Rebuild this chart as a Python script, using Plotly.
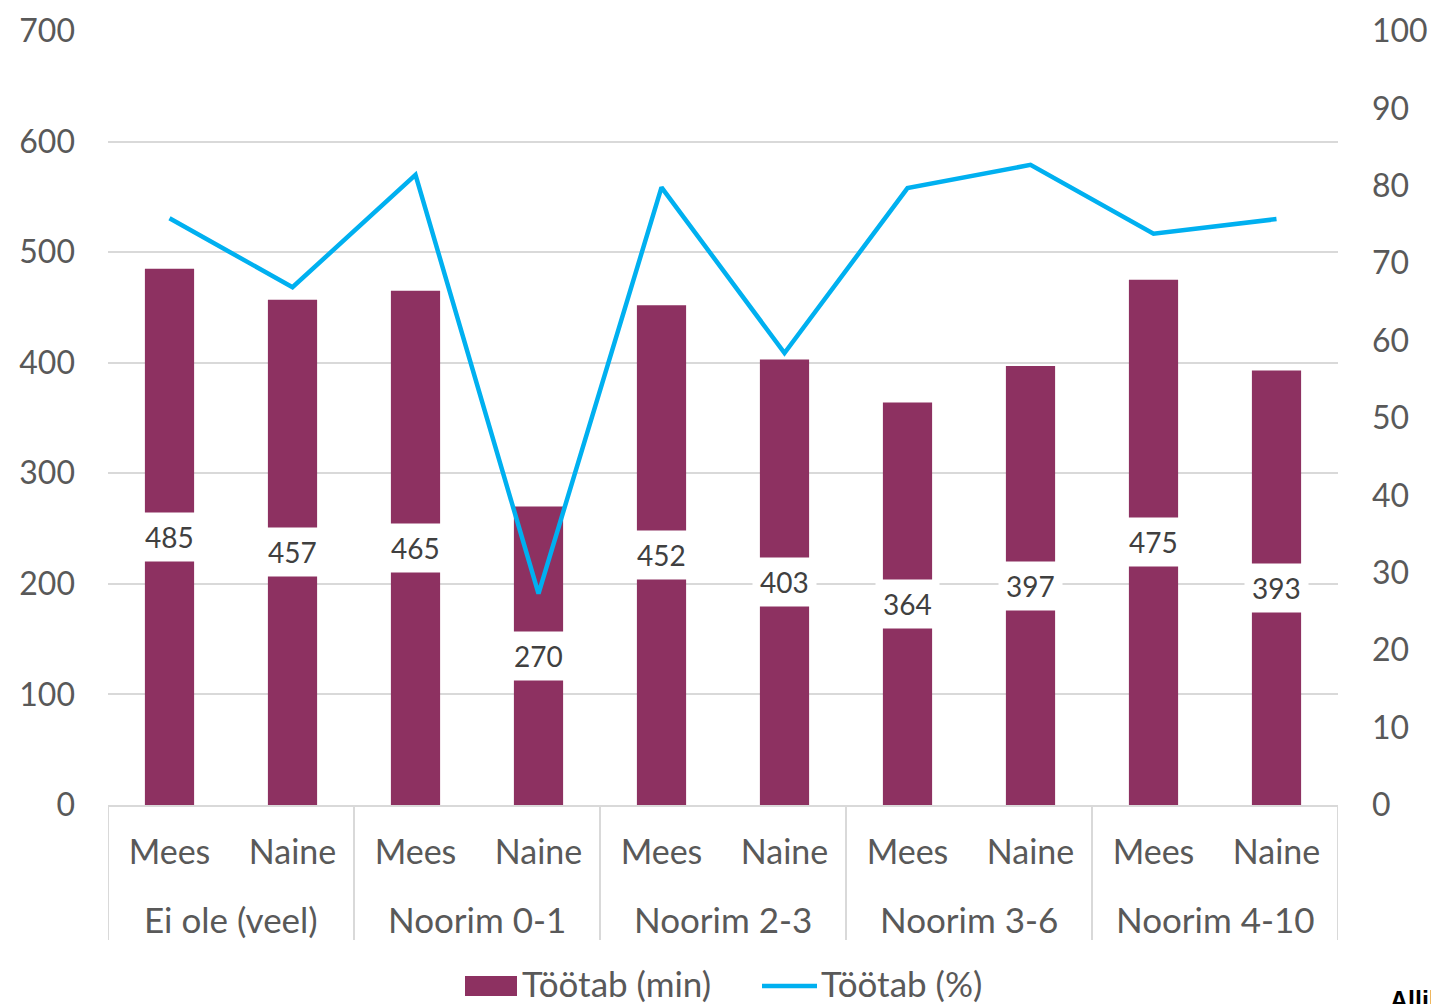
import plotly.graph_objects as go

groups = ["Ei ole (veel)", "Noorim 0-1", "Noorim 2-3", "Noorim 3-6", "Noorim 4-10"]
sexes = ["Mees", "Naine"]
minutes = [485, 457, 465, 270, 452, 403, 364, 397, 475, 393]
percent = [75.8, 66.9, 81.4, 27.3, 79.8, 58.4, 79.7, 82.7, 73.8, 75.7]

lvl2 = [s for _ in groups for s in sexes]
xs = list(range(len(lvl2)))

FONT = "Lato, 'Open Sans', sans-serif"
BAR = "#8D3161"
LINE = "#00B0F0"
TICK = "#595959"
GRID = "#D9D9D9"

# paper helpers for layout (non-data) placement, plot area 108..1338 x 31..805
def px(x):
    return (x - 108) / 1230.0

def py(y):
    return (805 - y) / 774.0

fig = go.Figure()
fig.add_trace(go.Bar(
    x=xs, y=minutes, name="Töötab (min)",
    marker=dict(color=BAR, line=dict(width=0)), width=0.4,
))
fig.add_trace(go.Scatter(
    x=xs, y=percent, name="Töötab (%)", yaxis="y2",
    mode="lines", line=dict(color=LINE, width=4.5),
))

for i, v in enumerate(minutes):
    fig.add_annotation(
        x=i, y=v / 2, xref="x", yref="y", text=str(v), showarrow=False,
        font=dict(family=FONT, size=28, color="#404040"),
        bgcolor="white", borderpad=7,
    )

n_per = len(sexes)
for g, name in enumerate(groups):
    fig.add_annotation(
        x=g * n_per + (n_per - 1) / 2, y=py(919), xref="x", yref="paper",
        text=name, showarrow=False, yanchor="middle",
        font=dict(family=FONT, size=35, color=TICK),
    )
for g in range(len(groups) + 1):
    fig.add_shape(type="line", xref="x", yref="paper",
                  x0=g * n_per - 0.5, x1=g * n_per - 0.5, y0=0, y1=py(940),
                  line=dict(color=GRID, width=2))

# custom legend
fig.add_shape(type="rect", xref="paper", yref="paper",
              x0=px(465), x1=px(517), y0=py(996), y1=py(976),
              fillcolor=BAR, line=dict(width=0))
fig.add_annotation(x=px(520), y=py(983), xref="paper", yref="paper",
                   text="Töötab (min)", showarrow=False, xanchor="left", yanchor="middle",
                   font=dict(family=FONT, size=35, color=TICK))
fig.add_shape(type="line", xref="paper", yref="paper",
              x0=px(762), x1=px(817), y0=py(986), y1=py(986),
              line=dict(color=LINE, width=4.5))
fig.add_annotation(x=px(819), y=py(983), xref="paper", yref="paper",
                   text="Töötab (%)", showarrow=False, xanchor="left", yanchor="middle",
                   font=dict(family=FONT, size=35, color=TICK))

fig.add_annotation(
    x=px(1388), y=py(984), xref="paper", yref="paper", text="<b>Allikas:</b>",
    showarrow=False, xanchor="left", yanchor="top",
    font=dict(family="Liberation Sans, Arial, sans-serif", size=25, color="black"),
)

fig.update_layout(
    width=1431, height=1004,
    margin=dict(l=108, r=93, t=31, b=199, autoexpand=False),
    paper_bgcolor="white", plot_bgcolor="white",
    font=dict(family=FONT, size=31, color=TICK),
    showlegend=False,
    xaxis=dict(
        range=[-0.5, len(xs) - 0.5], tickmode="array", tickvals=xs, ticktext=lvl2,
        showgrid=False, zeroline=False,
        showline=True, linecolor=GRID, linewidth=2,
        tickfont=dict(size=34, color=TICK), ticks="", ticklabelstandoff=16,
        automargin=False,
    ),
    yaxis=dict(
        range=[0, 700], dtick=100, showgrid=True, gridcolor=GRID, gridwidth=2,
        zeroline=False, showline=False, ticklabelstandoff=32,
        tickfont=dict(size=32, color=TICK), automargin=False,
    ),
    yaxis2=dict(
        range=[0, 100], dtick=10, overlaying="y", side="right", showgrid=False,
        zeroline=False, showline=False, ticklabelstandoff=33,
        tickfont=dict(size=32, color=TICK), automargin=False,
    ),
)

fig.write_html(
    "out.html",
    config={"displayModeBar": False},
    post_script="document.body.style.margin='0';document.body.style.overflow='hidden';",
)
